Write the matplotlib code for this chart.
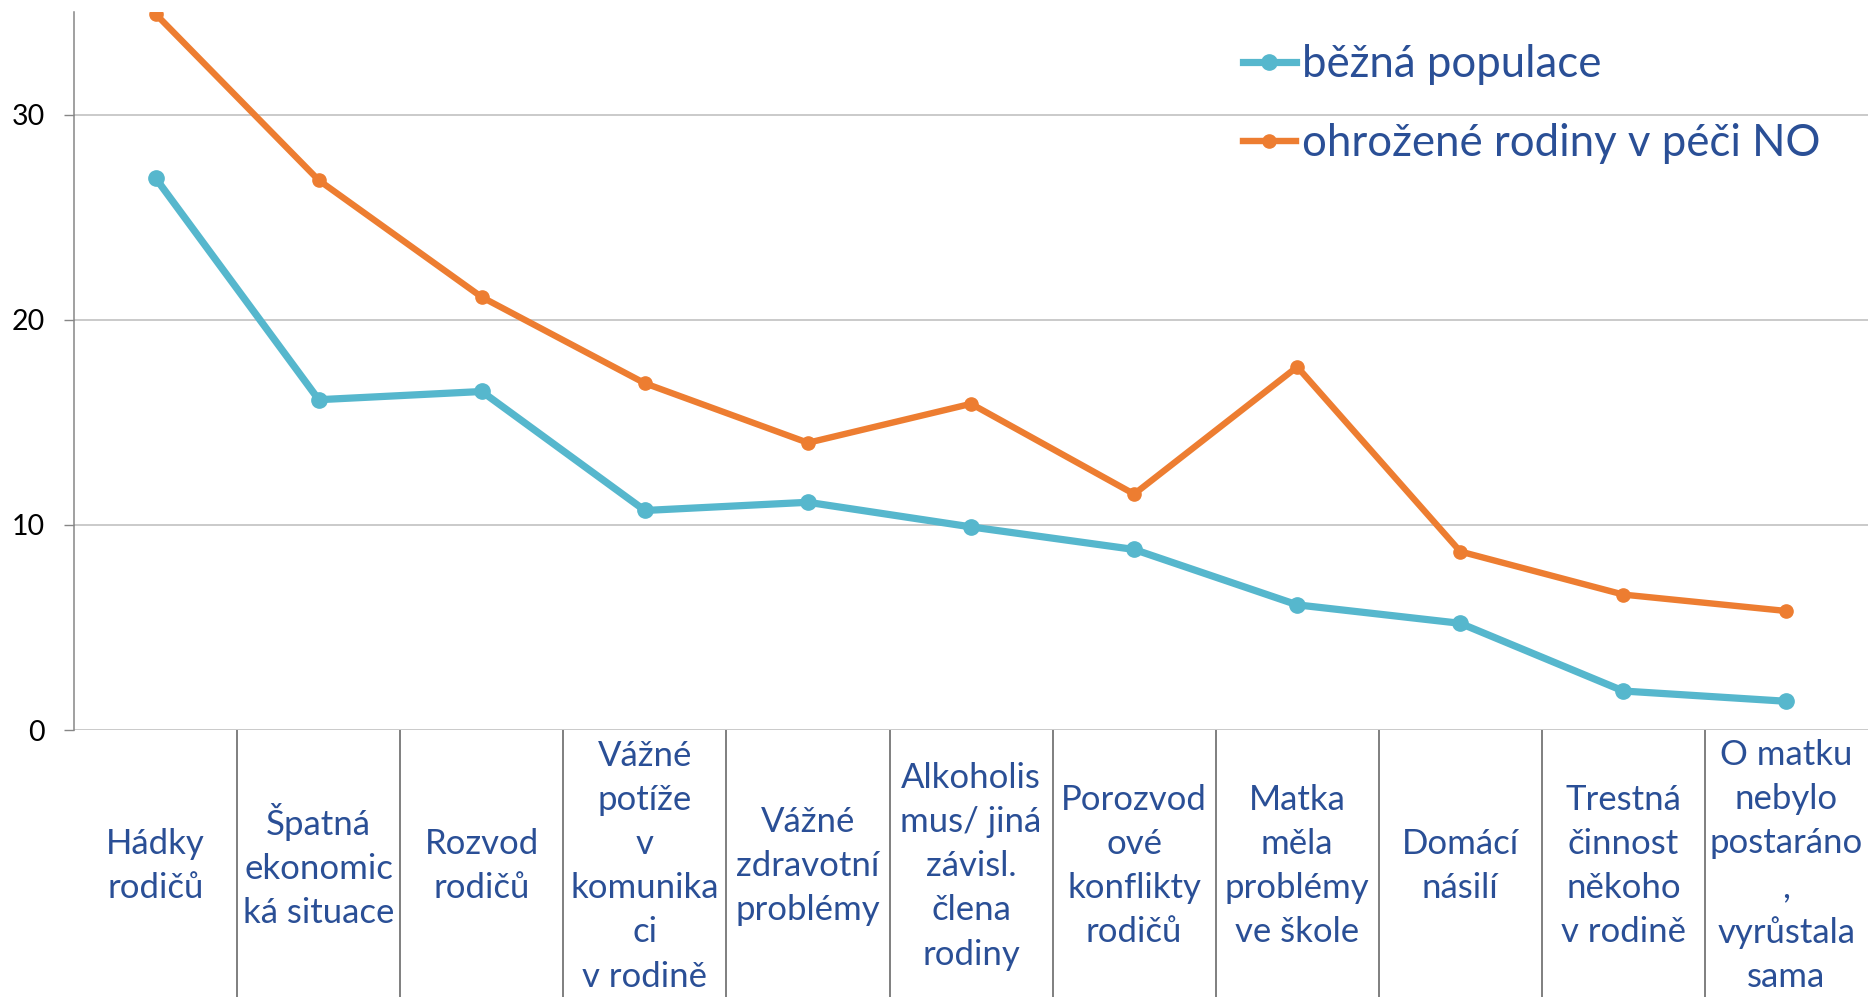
import numpy as np
import matplotlib
matplotlib.use("Agg")
import matplotlib.pyplot as plt

plt.rcParams['font.family'] = ['Lato', 'DejaVu Sans']

categories = [
    "Hádky\nrodičů",
    "Špatná\nekonomic\nká situace",
    "Rozvod\nrodičů",
    "Vážné\npotíže\nv\nkomunika\nci\nv rodině",
    "Vážné\nzdravotní\nproblémy",
    "Alkoholis\nmus/ jiná\nzávisl.\nčlena\nrodiny",
    "Porozvod\nové\nkonflikty\nrodičů",
    "Matka\nměla\nproblémy\nve škole",
    "Domácí\nnásilí",
    "Trestná\nčinnost\nněkoho\nv rodině",
    "O matku\nnebylo\npostaráno\n,\nvyrůstala\nsama",
]
bezna = [26.9, 16.1, 16.5, 10.7, 11.1, 9.9, 8.8, 6.1, 5.2, 1.9, 1.4]
ohrozene = [34.9, 26.8, 21.1, 16.9, 14.0, 15.9, 11.5, 17.7, 8.7, 6.6, 5.8]
series_names = ["běžná populace", "ohrožené rodiny v péči NO"]

blue = "#56B7CD"
orange = "#ED7D31"
textblue = "#2A4F96"

fig = plt.figure(figsize=(18.71, 9.97), dpi=100)
ax = fig.add_axes([0.0396, 0.2678, 0.9588, 0.7202])

x = np.arange(len(categories))
ax.plot(x, bezna, color=blue, lw=5.2, marker='o', ms=11, label=series_names[0], zorder=3)
ax.plot(x, ohrozene, color=orange, lw=4.6, marker='o', ms=9.5, label=series_names[1], zorder=3)

ax.set_xlim(-0.5, len(categories) - 0.5)
ax.set_ylim(0, 35)
ax.set_yticks([0, 10, 20, 30])
ax.tick_params(axis='y', labelsize=20.5, length=7, width=1, color='#868686', pad=14, labelcolor='black')
ax.grid(axis='y', color='#C6C6C6', lw=1.3)
ax.set_axisbelow(True)

for s in ['top', 'right', 'bottom']:
    ax.spines[s].set_visible(False)
ax.spines['left'].set_color('#868686')
ax.spines['left'].set_linewidth(1.1)

# category labels, centred in each slot
ax.set_xticks(x)
ax.set_xticklabels(categories, fontsize=25, color=textblue, va='center', ha='center', linespacing=1.47)
ax.tick_params(axis='x', which='major', length=0, pad=98)

# separators between categories
ax.set_xticks(np.arange(0.5, len(categories) - 1), minor=True)
ax.tick_params(axis='x', which='minor', length=195, width=1.4, color='#7F7F7F', direction='out')

leg = ax.legend(loc='upper left', bbox_to_anchor=(1243 / 1871, 1 - 44 / 997),
                bbox_transform=fig.transFigure, frameon=False, fontsize=31.5,
                handlelength=1.2, handletextpad=0.15, labelspacing=0.87,
                borderpad=0, borderaxespad=0)
for t in leg.get_texts():
    t.set_color(textblue)

fig.savefig("out.png", dpi=100)
